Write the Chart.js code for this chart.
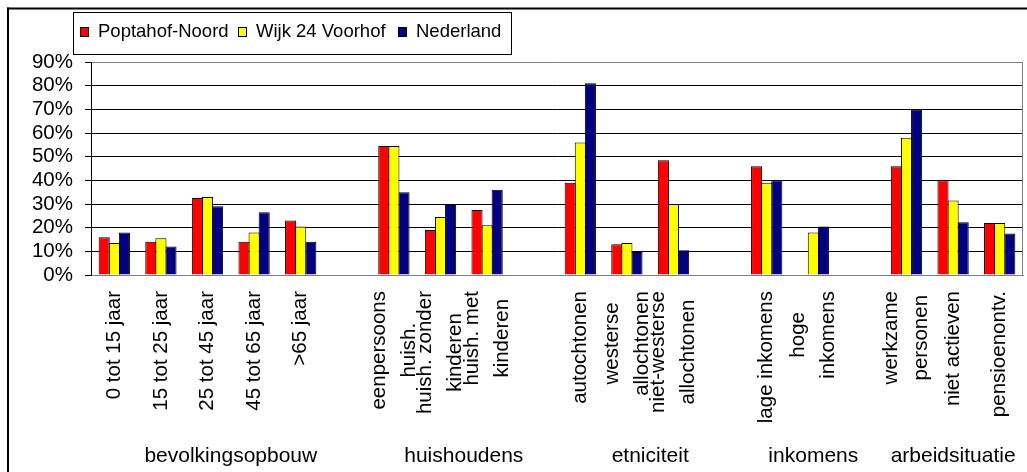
<!DOCTYPE html>
<html>
<head>
<meta charset="utf-8">
<script src="https://cdn.jsdelivr.net/npm/chart.js@4.4.1/dist/chart.umd.min.js"></script>
<style>
  html, body { margin: 0; padding: 0; background: #fff; }
</style>
</head>
<body>
<canvas id="chart" width="1027" height="472"></canvas>
<script>
// categories, '' = empty slot between the groups
const categories = [
  ['0 tot 15 jaar'], ['15 tot 25 jaar'], ['25 tot 45 jaar'], ['45 tot 65 jaar'], ['>65 jaar'],
  '',
  ['eenpersoons', 'huish.'], ['huish. zonder', 'kinderen'], ['huish. met', 'kinderen'],
  '',
  ['autochtonen'], ['westerse', 'allochtonen'], ['niet-westerse', 'allochtonen'],
  '',
  ['lage inkomens'], ['hoge', 'inkomens'],
  '',
  ['werkzame', 'personen'], ['niet actieven'], ['pensioenontv.']
];
const groups = ['bevolkingsopbouw', 'huishoudens', 'etniciteit', 'inkomens', 'arbeidsituatie'];
const groupCenters = [2.5, 7.5, 11.5, 15, 18];

const seriesNames = ['Poptahof-Noord', 'Wijk 24 Voorhof', 'Nederland'];
const seriesColors = ['#ff0000', '#ffff00', '#000080'];
const poptahof  = [16, 14, 32.5, 14, 23, null, 54.5, 19, 27.5, null, 39, 13, 48.5, null, 46, null, null, 46, 40, 22];
const wijk24    = [13.5, 15.5, 33, 18, 20.5, null, 54.5, 24.5, 21, null, 56, 13.5, 30, null, 39, 18, null, 58, 31.5, 22];
const nederland = [18, 12, 29, 26.5, 14, null, 35, 30, 36, null, 81, 9.7, 10.5, null, 40, 20.5, null, 70, 22.3, 17.5];

const yMax = 90;
const yStep = 10;

const FONT = '"Liberation Sans", Arial, sans-serif';

const frame = {
  id: 'frame',
  beforeDraw(chart) {
    const ctx = chart.ctx;
    ctx.save();
    ctx.fillStyle = '#fff';
    ctx.fillRect(0, 0, chart.width, chart.height);
    ctx.fillStyle = '#000';
    ctx.fillRect(7, 7.5, chart.width - 7, 2);
    ctx.fillRect(7, 7.5, 2, chart.height - 7.5);
    ctx.restore();
  },
  afterDraw(chart) {
    const ctx = chart.ctx;
    const area = chart.chartArea;
    const xs = chart.scales.x;
    ctx.save();

    // plot area border on the right
    ctx.strokeStyle = '#808080';
    ctx.lineWidth = 1;
    ctx.beginPath();
    ctx.moveTo(Math.round(area.right) - 0.5, area.top);
    ctx.lineTo(Math.round(area.right) - 0.5, area.bottom);
    ctx.stroke();

    // category labels, rotated, lines centred on the tick
    ctx.fillStyle = '#000';
    ctx.font = '20.5px ' + FONT;
    ctx.textAlign = 'center';
    ctx.textBaseline = 'middle';
    categories.forEach((lab, i) => {
      const lines = typeof lab === 'string' ? (lab ? [lab] : []) : lab;
      if (!lines.length) return;
      const px = xs.getPixelForTick(i);
      const w = Math.max(...lines.map(l => ctx.measureText(l).width));
      lines.forEach((line, j) => {
        ctx.save();
        ctx.translate(px + (j - (lines.length - 1) / 2) * 30, xs.top + 16 + w / 2);
        ctx.rotate(-Math.PI / 2);
        ctx.fillText(line, 0, 0);
        ctx.restore();
      });
    });

    // group labels
    ctx.font = '21px ' + FONT;
    ctx.textBaseline = 'alphabetic';
    groups.forEach((g, k) => {
      ctx.fillText(g, xs.getPixelForValue(groupCenters[k]), 462);
    });

    // legend box
    ctx.strokeStyle = '#000';
    ctx.strokeRect(73.5, 12.5, 438, 42);
    const legendX = [80, 238, 398];
    ctx.font = '18.5px ' + FONT;
    ctx.textAlign = 'left';
    ctx.textBaseline = 'middle';
    chart.data.datasets.forEach((ds, k) => {
      ctx.fillStyle = ds.backgroundColor;
      ctx.fillRect(legendX[k] + 0.5, 27.5, 8, 9);
      ctx.strokeRect(legendX[k] + 0.5, 27.5, 8, 9);
      ctx.fillStyle = '#000';
      ctx.fillText(ds.label, legendX[k] + 18, 32);
    });
    ctx.restore();
  }
};

new Chart(document.getElementById('chart'), {
  type: 'bar',
  data: {
    labels: categories,
    datasets: [poptahof, wijk24, nederland].map((d, k) => ({
      label: seriesNames[k],
      data: d,
      backgroundColor: seriesColors[k],
      borderColor: '#000',
      borderWidth: 1,
      borderSkipped: 'start',
      categoryPercentage: 0.65,
      barPercentage: 1.1
    }))
  },
  options: {
    responsive: false,
    animation: false,
    devicePixelRatio: 1,
    layout: { padding: { left: 0, top: 62, right: 4, bottom: 0 } },
    plugins: {
      legend: { display: false },
      tooltip: { enabled: false }
    },
    scales: {
      x: {
        grid: { display: false, drawTicks: false },
        border: { display: true, color: '#808080', width: 1 },
        ticks: { display: false },
        afterFit(s) { s.height = 197; }
      },
      y: {
        min: 0,
        max: yMax,
        ticks: {
          stepSize: yStep,
          autoSkip: false,
          padding: 12,
          color: '#000',
          font: { family: FONT, size: 20.5, lineHeight: 1 },
          callback: v => v + '%'
        },
        grid: {
          color: c => (c.tick && (c.tick.value === 0 || c.tick.value === yMax)) ? '#808080' : '#000',
          tickColor: '#000',
          tickLength: 6,
          lineWidth: 1
        },
        border: { color: '#000', width: 1 },
        afterFit(s) { s.width = 91; }
      }
    }
  },
  plugins: [frame]
});
</script>
</body>
</html>
